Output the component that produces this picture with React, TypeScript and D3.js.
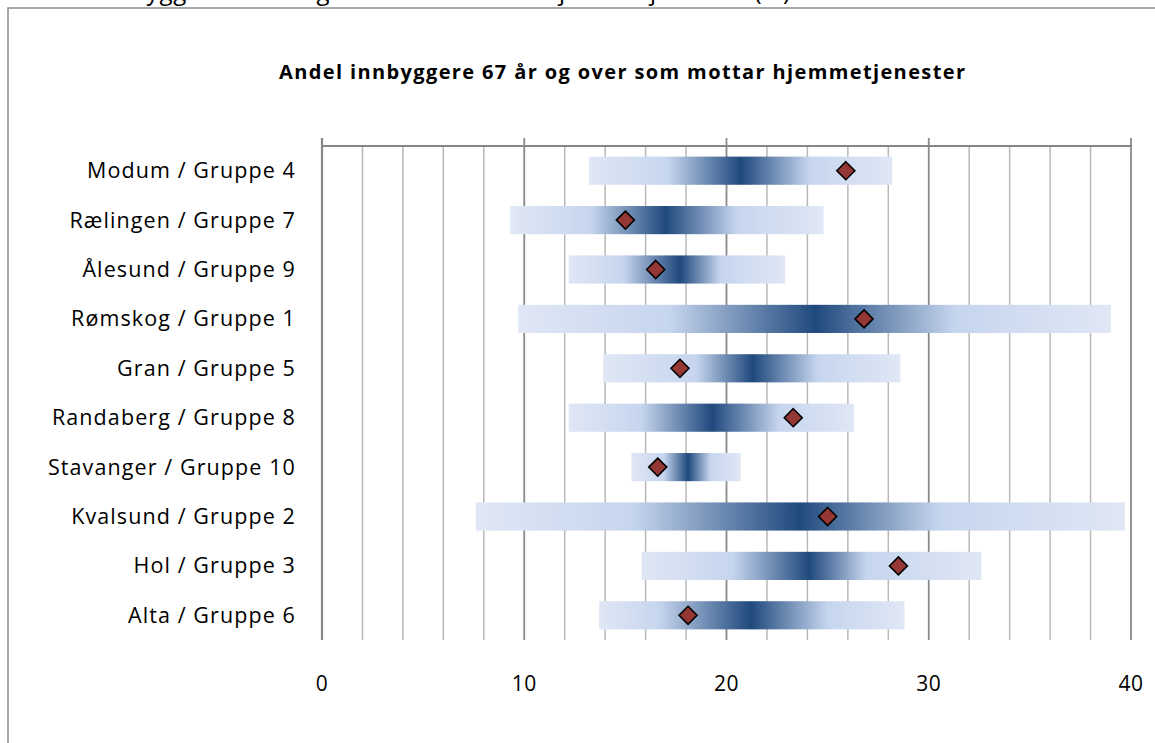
import React from "react";
import * as d3 from "d3";

const categories = [
  "Modum / Gruppe 4",
  "Rælingen / Gruppe 7",
  "Ålesund / Gruppe 9",
  "Rømskog / Gruppe 1",
  "Gran / Gruppe 5",
  "Randaberg / Gruppe 8",
  "Stavanger / Gruppe 10",
  "Kvalsund / Gruppe 2",
  "Hol / Gruppe 3",
  "Alta / Gruppe 6",
];
const minVals = [13.2, 9.3, 12.2, 9.7, 13.9, 12.2, 15.3, 7.6, 15.8, 13.7];
const q1Vals = [17.1, 13.3, 14.9, 17.2, 18.5, 15.8, 16.9, 15.4, 20.3, 16.7];
const medVals = [20.7, 17.0, 17.7, 24.4, 21.3, 19.3, 18.1, 23.6, 24.1, 21.2];
const q3Vals = [24.1, 20.5, 19.7, 31.3, 24.5, 22.6, 19.2, 30.5, 26.9, 25.0];
const maxVals = [28.2, 24.8, 22.9, 39.0, 28.6, 26.3, 20.7, 39.7, 32.6, 28.8];
const values = [25.9, 15.0, 16.5, 26.8, 17.7, 23.3, 16.6, 25.0, 28.5, 18.1];
const majorTicks = [0, 10, 20, 30, 40];
const minorTicks = [2, 4, 6, 8, 12, 14, 16, 18, 22, 24, 26, 28, 32, 34, 36, 38];

const chartTitle = "Andel innbyggere 67 år og over som mottar hjemmetjenester";
const clippedTitle = "Andel innbyggere 67 år og over som mottar hjemmetjenester (%)";

export default function App() {
  const W = 1155;
  const H = 743;
  const x = d3.scaleLinear().domain([0, 40]).range([322, 1131]);
  const y = d3
    .scaleBand<string>()
    .domain(categories)
    .range([146, 640])
    .paddingInner(0.43)
    .paddingOuter(0.215);
  const font = "'Open Sans', Lato, sans-serif";
  const light = "#e0e7f5";
  const mid = "#c6d5ee";
  const dark = "#1f497d";
  const plotTop = 146;
  const plotBottom = 640;

  return (
    <svg
      width={W}
      height={H}
      style={{ position: "absolute", left: 0, top: 0, background: "#fff" }}
    >
      <defs>
        {categories.map((c, i) => {
          const x0 = x(minVals[i]);
          const x1 = x(maxVals[i]);
          const off = (v: number) => (x(v) - x0) / (x1 - x0);
          return (
            <linearGradient
              key={c}
              id={`g${i}`}
              gradientUnits="userSpaceOnUse"
              x1={x0}
              x2={x1}
              y1={0}
              y2={0}
            >
              <stop offset={0} stopColor={light} />
              <stop offset={off(q1Vals[i])} stopColor={mid} />
              <stop offset={off(medVals[i])} stopColor={dark} />
              <stop offset={off(q3Vals[i])} stopColor={mid} />
              <stop offset={1} stopColor={light} />
            </linearGradient>
          );
        })}
      </defs>
      <rect x={0} y={0} width={W} height={H} fill="#fff" />
      {/* clipped heading above frame (cut off at page top, as in the reference) */}
      <text
        x={18}
        y={0}
        fontFamily={font}
        fontSize={24}
        textLength={772}
        lengthAdjust="spacing"
        fill="#000"
      >
        {clippedTitle}
      </text>
      {/* outer frame */}
      <path d={`M8,${H + 5} L8,8 L${W + 5},8`} fill="none" stroke="#8c8c8c" strokeWidth={1.5} />
      {/* title */}
      <text
        x={279}
        y={79}
        fontFamily={font}
        fontSize={20}
        fontWeight="bold"
        textLength={686}
        lengthAdjust="spacing"
        fill="#000"
      >
        {chartTitle}
      </text>
      {/* minor gridlines */}
      {minorTicks.map((t) => (
        <line
          key={`m${t}`}
          x1={x(t)}
          x2={x(t)}
          y1={plotTop}
          y2={plotBottom}
          stroke="#b8b8b8"
          strokeWidth={1.5}
        />
      ))}
      {/* major gridlines */}
      {majorTicks.map((t) => (
        <line
          key={`M${t}`}
          x1={x(t)}
          x2={x(t)}
          y1={t === 0 ? plotTop : plotTop - 8}
          y2={plotBottom}
          stroke="#8a8a8a"
          strokeWidth={t === 0 ? 2.2 : 1.8}
        />
      ))}
      <line x1={x(0) - 1} x2={x(40) + 1} y1={plotTop} y2={plotTop} stroke="#868686" strokeWidth={2.2} />
      <line x1={x(0)} x2={x(0)} y1={plotTop - 8} y2={plotTop} stroke="#868686" strokeWidth={2.2} />
      {/* bars */}
      {categories.map((c, i) => (
        <rect
          key={c}
          x={x(minVals[i])}
          y={y(c)!}
          width={x(maxVals[i]) - x(minVals[i])}
          height={y.bandwidth()}
          fill={`url(#g${i})`}
        />
      ))}
      {/* markers */}
      {categories.map((c, i) => {
        const cx = x(values[i]);
        const cy = y(c)! + y.bandwidth() / 2;
        const r = 9;
        return (
          <path
            key={`d${c}`}
            d={`M${cx},${cy - r} L${cx + r},${cy} L${cx},${cy + r} L${cx - r},${cy} Z`}
            fill="#953735"
            stroke="#000"
            strokeWidth={1.6}
          />
        );
      })}
      {/* category labels */}
      {categories.map((c) => (
        <text
          key={`l${c}`}
          x={296}
          y={y(c)! + y.bandwidth() / 2}
          dy="0.35em"
          textAnchor="end"
          fontFamily={font}
          fontSize={21.5}
          letterSpacing={1.1}
          fill="#000"
        >
          {c}
        </text>
      ))}
      {/* value tick labels */}
      {majorTicks.map((t) => (
        <text
          key={`t${t}`}
          x={x(t)}
          y={684}
          dy="0.35em"
          textAnchor="middle"
          fontFamily={font}
          fontSize={21}
          letterSpacing={0.6}
          fill="#000"
        >
          {t}
        </text>
      ))}
    </svg>
  );
}
